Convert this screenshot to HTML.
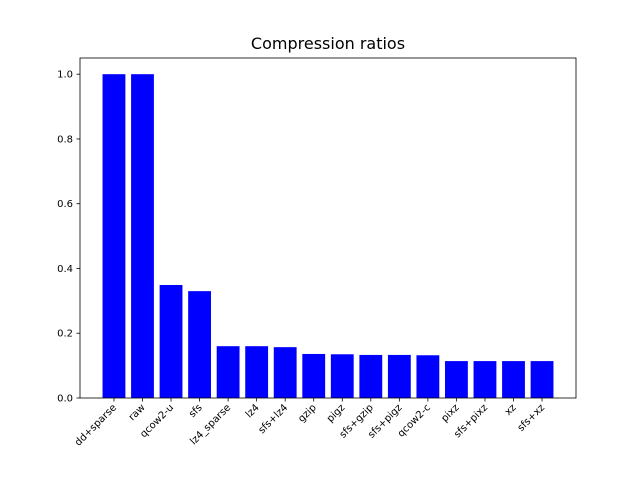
<!DOCTYPE html>
<html><head><meta charset="utf-8"><style>
body{margin:0;background:#fff;font-family:"DejaVu Sans","Liberation Sans",sans-serif;}
</style></head><body>
<svg id="chart" width="640" height="480" xmlns="http://www.w3.org/2000/svg">
<rect width="640" height="480" fill="#fff"/>
<text x="328" y="49" text-anchor="middle" font-size="16" font-family="DejaVu Sans, sans-serif">Compression ratios</text>
<g id="bars"></g><g id="axes"></g>
</svg>
<script>
const categories=["dd+sparse","raw","qcow2-u","sfs","lz4_sparse","lz4","sfs+lz4","gzip","pigz","sfs+gzip","sfs+pigz","qcow2-c","pixz","sfs+pixz","xz","sfs+xz"];
const ratios=[1.0,1.0,0.349,0.330,0.160,0.160,0.157,0.136,0.135,0.133,0.133,0.132,0.114,0.114,0.114,0.114];
const yTicks=[0.0,0.2,0.4,0.6,0.8,1.0];
const yTickLabels=["0.0","0.2","0.4","0.6","0.8","1.0"];
const NS="http://www.w3.org/2000/svg";
const L=80,R=576,T=58,B=398;
const ymax=1.05*Math.max(...ratios);
const xmin=-0.4-0.79,xmax=categories.length-1+0.4+0.79;
function xs(v){return L+(v-xmin)/(xmax-xmin)*(R-L);}
function ys(v){return B-v/ymax*(B-T);}
function mk(t,a){const e=document.createElementNS(NS,t);for(const k in a)e.setAttribute(k,a[k]);return e;}
const bars=document.getElementById('bars'),axes=document.getElementById('axes');
ratios.forEach((v,i)=>{
 const r=mk('rect',{x:xs(i-0.4),y:ys(v),width:xs(i+0.4)-xs(i-0.4),height:ys(0)-ys(v),fill:'#0000ff'});
 
 
 bars.appendChild(r);
 const tk=mk('line',{x1:xs(i),x2:xs(i),y1:B,y2:B+3.5,stroke:'#000','stroke-width':0.8});
 
 
 axes.appendChild(tk);
 const tx=mk('text',{x:xs(i)+3,y:B+10,'font-size':10,'text-anchor':'end',transform:`rotate(-45 ${xs(i)+3} ${B+10})`});
 tx.textContent=categories[i];
 
 
 axes.appendChild(tx);
});
yTicks.forEach((v,i)=>{
 const tk=mk('line',{x1:L-3.5,x2:L,y1:ys(v),y2:ys(v),stroke:'#000','stroke-width':0.8});
 
 
 axes.appendChild(tk);
 const tx=mk('text',{x:L-7,y:ys(v)+3.5,'font-size':10,'text-anchor':'end'});
 tx.textContent=yTickLabels[i];
 
 
 axes.appendChild(tx);
});
const frame=mk('rect',{x:L,y:T,width:R-L,height:B-T,fill:'none',stroke:'#000','stroke-width':0.8});


axes.appendChild(frame);
</script>
</body></html>
